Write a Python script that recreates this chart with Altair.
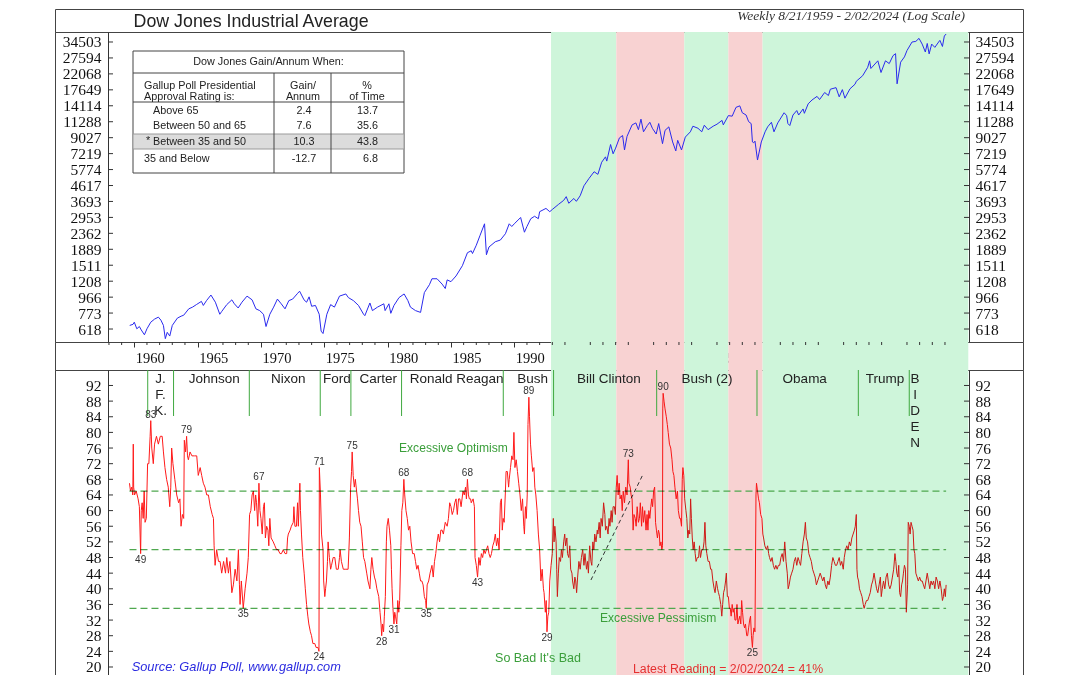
import altair as alt
import pandas as pd

SANS = "Liberation Sans"
SERIF = "Liberation Serif"

# ---------------- data ----------------
djia_year = [1959.64, 1959.9, 1960.0, 1960.2, 1960.4, 1960.55, 1960.8, 1961.0, 1961.3, 1961.6, 1961.9,
             1962.1, 1962.3, 1962.45, 1962.6, 1962.8, 1963.0, 1963.4, 1963.7, 1963.9, 1964.3, 1964.6,
             1964.9, 1965.3, 1965.45, 1965.7, 1966.05, 1966.4, 1966.75, 1966.9, 1967.3, 1967.7, 1967.9,
             1968.2, 1968.5, 1968.9, 1969.3, 1969.6, 1969.9, 1970.2, 1970.4, 1970.7, 1971.0, 1971.3,
             1971.6, 1971.9, 1972.2, 1972.5, 1972.9, 1973.05, 1973.4, 1973.6, 1973.8, 1974.0, 1974.3,
             1974.6, 1974.75, 1974.9, 1975.2, 1975.5, 1975.8, 1976.2, 1976.7, 1976.9, 1977.3, 1977.7,
             1978.1, 1978.2, 1978.6, 1978.8, 1979.2, 1979.7, 1979.8, 1980.1, 1980.25, 1980.5, 1980.9,
             1981.3, 1981.6, 1981.8, 1982.2, 1982.6, 1982.9, 1983.3, 1983.5, 1983.9, 1984.3, 1984.55,
             1984.7, 1985.0, 1985.4, 1985.9, 1986.3, 1986.6, 1986.7, 1987.0, 1987.3, 1987.65, 1987.8,
             1988.0, 1988.5, 1988.9, 1989.3, 1989.6, 1989.8, 1990.0, 1990.5, 1990.8, 1991.0, 1991.3,
             1991.6, 1991.9, 1992.0, 1992.5, 1992.8, 1993.0, 1993.5, 1993.9, 1994.1, 1994.3, 1994.7,
             1994.9, 1995.2, 1995.5, 1995.9, 1996.3, 1996.6, 1996.9, 1997.2, 1997.3, 1997.6, 1997.8,
             1998.0, 1998.3, 1998.55, 1998.7, 1998.9, 1999.3, 1999.6, 1999.8, 2000.0, 2000.2, 2000.5,
             2000.7, 2000.9, 2001.2, 2001.4, 2001.7, 2001.9, 2002.2, 2002.5, 2002.75, 2002.9, 2003.2,
             2003.5, 2003.9, 2004.1, 2004.5, 2004.8, 2005.0, 2005.3, 2005.7, 2006.0, 2006.4, 2006.5,
             2006.9, 2007.2, 2007.5, 2007.8, 2008.0, 2008.3, 2008.5, 2008.7, 2008.8, 2008.9, 2009.0,
             2009.2, 2009.5, 2009.8, 2010.0, 2010.3, 2010.5, 2010.8, 2011.3, 2011.5, 2011.6, 2011.75,
             2012.0, 2012.3, 2012.45, 2012.8, 2012.9, 2013.2, 2013.5, 2013.9, 2014.1, 2014.5, 2014.8,
             2014.95, 2015.4, 2015.65, 2015.9, 2016.1, 2016.5, 2016.9, 2017.0, 2017.5, 2017.9, 2018.05,
             2018.15, 2018.7, 2018.95, 2019.3, 2019.6, 2019.9, 2020.1, 2020.22, 2020.5, 2020.8, 2021.0,
             2021.4, 2021.7, 2021.95, 2022.2, 2022.45, 2022.6, 2022.75, 2022.95, 2023.2, 2023.5, 2023.6,
             2023.8, 2023.95, 2024.09]
djia_value = [650, 660, 680, 620, 640, 610, 570, 620, 680, 710, 730,
              700, 650, 540, 590, 560, 650, 720, 740, 750, 820, 840,
              870, 910, 860, 920, 995, 900, 760, 790, 870, 930, 880,
              830, 900, 980, 930, 820, 800, 760, 640, 760, 840, 940,
              880, 820, 920, 940, 1020, 1050, 930, 900, 970, 850, 860,
              760, 600, 580, 760, 870, 840, 980, 1010, 960, 920, 860,
              760, 745, 890, 800, 840, 880, 800, 880, 770, 860, 960,
              1010, 920, 840, 800, 780, 1030, 1150, 1250, 1250, 1160, 1090,
              1230, 1200, 1300, 1500, 1800, 1850, 1780, 2000, 2300, 2700, 1750,
              1950, 2100, 2150, 2350, 2700, 2600, 2700, 2950, 2400, 2600, 2900,
              3000, 2900, 3200, 3350, 3200, 3300, 3550, 3750, 3950, 3600, 3850,
              3700, 4000, 4600, 5100, 5600, 5400, 6400, 6900, 6500, 8200, 7200,
              7800, 9000, 9300, 7600, 9200, 10800, 11100, 10100, 11700, 9800, 10700,
              11200, 10300, 9500, 11000, 8300, 10000, 10500, 8500, 7500, 8700, 7600,
              9100, 9800, 10600, 10300, 9800, 10750, 10100, 10600, 10900, 11500, 10800,
              12300, 12200, 13800, 14100, 12800, 12400, 11300, 11000, 8500, 8400, 8600,
              6600, 8500, 9800, 10500, 11200, 9800, 11100, 12800, 12300, 11000, 10700,
              12400, 13200, 12400, 13500, 12700, 14500, 15300, 16100, 15400, 17000, 16300,
              17800, 18200, 16000, 17700, 15700, 17900, 19100, 19900, 21500, 24200, 26500,
              23800, 26500, 22500, 26500, 25500, 28500, 29300, 19200, 26000, 28000, 30600,
              34500, 34800, 36300, 33500, 30000, 33800, 29200, 33500, 32000, 34500, 35300,
              32400, 37500, 38600]

appr_year = [1959.62, 1959.7, 1959.8, 1959.88, 1959.92, 1959.95, 1960.02, 1960.15, 1960.3, 1960.4, 1960.5,
             1960.55, 1960.62, 1960.7, 1960.78, 1960.85, 1960.95, 1961.05, 1961.15, 1961.25, 1961.3, 1961.38,
             1961.5, 1961.6, 1961.75, 1961.9, 1962.05, 1962.2, 1962.3, 1962.42, 1962.55, 1962.68, 1962.8,
             1962.88, 1962.95, 1963.05, 1963.2, 1963.35, 1963.5, 1963.6, 1963.69, 1963.8, 1963.9, 1963.95,
             1964.05, 1964.13, 1964.2, 1964.27, 1964.4, 1964.55, 1964.75, 1964.93, 1965.05, 1965.2, 1965.32,
             1965.45, 1965.58, 1965.72, 1965.85, 1966.0, 1966.15, 1966.25, 1966.3, 1966.38, 1966.5, 1966.65,
             1966.77, 1966.9, 1967.05, 1967.2, 1967.3, 1967.43, 1967.55, 1967.7, 1967.82, 1967.96, 1968.1,
             1968.22, 1968.3, 1968.35, 1968.45, 1968.6, 1968.75, 1968.9, 1969.0, 1969.1, 1969.2, 1969.3,
             1969.4, 1969.5, 1969.58, 1969.65, 1969.75, 1969.84, 1969.92, 1970.0, 1970.1, 1970.2, 1970.27,
             1970.35, 1970.45, 1970.55, 1970.62, 1970.7, 1970.8, 1970.97, 1971.1, 1971.23, 1971.35, 1971.5,
             1971.62, 1971.76, 1971.9, 1972.03, 1972.1, 1972.16, 1972.3, 1972.4, 1972.55, 1972.6, 1972.68,
             1972.8, 1972.89, 1972.95, 1973.07, 1973.12, 1973.2, 1973.3, 1973.41, 1973.5, 1973.6, 1973.7,
             1973.78, 1973.9, 1973.99, 1974.1, 1974.25, 1974.35, 1974.5, 1974.58, 1974.61, 1974.7, 1974.78,
             1974.9, 1974.95, 1975.04, 1975.1, 1975.17, 1975.25, 1975.3, 1975.4, 1975.5, 1975.57, 1975.7,
             1975.83, 1975.95, 1976.1, 1976.2, 1976.25, 1976.35, 1976.5, 1976.7, 1976.88, 1976.98, 1977.08,
             1977.15, 1977.2, 1977.28, 1977.37, 1977.45, 1977.55, 1977.62, 1977.7, 1977.8, 1977.9, 1978.0,
             1978.1, 1978.2, 1978.35, 1978.45, 1978.6, 1978.68, 1978.75, 1978.85, 1978.96, 1979.05, 1979.15,
             1979.3, 1979.4, 1979.48, 1979.53, 1979.6, 1979.68, 1979.74, 1979.82, 1979.9, 1979.95, 1980.05,
             1980.15, 1980.25, 1980.3, 1980.35, 1980.42, 1980.5, 1980.56, 1980.62, 1980.72, 1980.8, 1980.88,
             1980.95, 1981.05, 1981.12, 1981.2, 1981.28, 1981.35, 1981.45, 1981.55, 1981.65, 1981.75, 1981.85,
             1981.97, 1982.1, 1982.2, 1982.3, 1982.4, 1982.5, 1982.6, 1982.7, 1982.8, 1982.9, 1983.0,
             1983.05, 1983.12, 1983.24, 1983.35, 1983.5, 1983.6, 1983.7, 1983.8, 1983.9, 1984.0, 1984.1,
             1984.2, 1984.3, 1984.4, 1984.55, 1984.7, 1984.8, 1984.9, 1985.0, 1985.1, 1985.2, 1985.3,
             1985.4, 1985.5, 1985.6, 1985.7, 1985.8, 1985.95, 1986.05, 1986.15, 1986.22, 1986.3, 1986.38,
             1986.45, 1986.55, 1986.6, 1986.75, 1986.85, 1986.9, 1987.0, 1987.1, 1987.2, 1987.3, 1987.4,
             1987.5, 1987.6, 1987.7, 1987.8, 1987.9, 1988.0, 1988.1, 1988.2, 1988.3, 1988.4, 1988.5,
             1988.6, 1988.7, 1988.8, 1988.9, 1988.98, 1989.05, 1989.12, 1989.2, 1989.3, 1989.35, 1989.45,
             1989.55, 1989.6, 1989.7, 1989.8, 1989.9, 1989.97, 1990.05, 1990.15, 1990.25, 1990.35, 1990.45,
             1990.55, 1990.65, 1990.75, 1990.8, 1990.88, 1990.95, 1991.02, 1991.08, 1991.15, 1991.2, 1991.28,
             1991.35, 1991.45, 1991.55, 1991.62, 1991.7, 1991.8, 1991.9, 1992.0, 1992.1, 1992.2, 1992.3,
             1992.35, 1992.45, 1992.52, 1992.58, 1992.65, 1992.72, 1992.8, 1992.9, 1993.0, 1993.08, 1993.14,
             1993.2, 1993.3, 1993.35, 1993.4, 1993.48, 1993.55, 1993.65, 1993.72, 1993.8, 1993.9, 1993.98,
             1994.05, 1994.15, 1994.2, 1994.3, 1994.38, 1994.45, 1994.55, 1994.6, 1994.7, 1994.78, 1994.85,
             1994.92, 1995.0, 1995.1, 1995.2, 1995.3, 1995.4, 1995.5, 1995.58, 1995.7, 1995.78, 1995.85,
             1995.95, 1996.05, 1996.12, 1996.2, 1996.28, 1996.35, 1996.45, 1996.55, 1996.6, 1996.7, 1996.78,
             1996.85, 1996.95, 1997.05, 1997.15, 1997.2, 1997.3, 1997.4, 1997.48, 1997.55, 1997.65, 1997.72,
             1997.8, 1997.9, 1997.98, 1998.05, 1998.12, 1998.2, 1998.28, 1998.35, 1998.45, 1998.52, 1998.6,
             1998.7, 1998.8, 1998.9, 1999.0, 1999.05, 1999.15, 1999.22, 1999.3, 1999.38, 1999.45, 1999.55,
             1999.62, 1999.7, 1999.8, 1999.88, 1999.95, 2000.05, 2000.12, 2000.2, 2000.3, 2000.4, 2000.48,
             2000.55, 2000.62, 2000.7, 2000.78, 2000.85, 2000.92, 2001.0, 2001.08, 2001.15, 2001.22, 2001.3,
             2001.38, 2001.45, 2001.5, 2001.58, 2001.65, 2001.7, 2001.72, 2001.75, 2001.82, 2001.9, 2002.0,
             2002.08, 2002.15, 2002.25, 2002.35, 2002.45, 2002.52, 2002.6, 2002.68, 2002.78, 2002.88, 2002.95,
             2003.05, 2003.12, 2003.2, 2003.26, 2003.31, 2003.38, 2003.45, 2003.55, 2003.62, 2003.7, 2003.78,
             2003.85, 2003.92, 2003.98, 2004.05, 2004.12, 2004.2, 2004.28, 2004.35, 2004.45, 2004.55, 2004.62,
             2004.7, 2004.8, 2004.9, 2004.98, 2005.05, 2005.12, 2005.2, 2005.3, 2005.4, 2005.5, 2005.58,
             2005.68, 2005.78, 2005.85, 2005.95, 2006.05, 2006.12, 2006.2, 2006.3, 2006.38, 2006.45, 2006.52,
             2006.6, 2006.68, 2006.74, 2006.82, 2006.9, 2006.98, 2007.05, 2007.12, 2007.2, 2007.28, 2007.35,
             2007.42, 2007.5, 2007.58, 2007.65, 2007.72, 2007.8, 2007.88, 2007.95, 2008.02, 2008.1, 2008.18,
             2008.25, 2008.35, 2008.42, 2008.5, 2008.58, 2008.65, 2008.72, 2008.8, 2008.85, 2008.92, 2009.0,
             2009.08, 2009.12, 2009.2, 2009.28, 2009.35, 2009.45, 2009.55, 2009.62, 2009.68, 2009.78, 2009.9,
             2010.0, 2010.08, 2010.15, 2010.25, 2010.35, 2010.45, 2010.55, 2010.65, 2010.75, 2010.85, 2010.95,
             2011.05, 2011.15, 2011.25, 2011.35, 2011.45, 2011.55, 2011.62, 2011.7, 2011.8, 2011.9, 2012.0,
             2012.1, 2012.2, 2012.3, 2012.4, 2012.5, 2012.6, 2012.7, 2012.8, 2012.9, 2012.98, 2013.05,
             2013.15, 2013.25, 2013.35, 2013.45, 2013.55, 2013.65, 2013.75, 2013.85, 2013.95, 2014.05, 2014.15,
             2014.25, 2014.35, 2014.45, 2014.55, 2014.65, 2014.75, 2014.85, 2014.95, 2015.05, 2015.15, 2015.25,
             2015.35, 2015.45, 2015.55, 2015.65, 2015.75, 2015.85, 2015.97, 2016.05, 2016.15, 2016.25, 2016.35,
             2016.45, 2016.55, 2016.65, 2016.75, 2016.85, 2016.92, 2017.0, 2017.05, 2017.1, 2017.18, 2017.25,
             2017.35, 2017.45, 2017.55, 2017.62, 2017.7, 2017.8, 2017.9, 2018.0, 2018.1, 2018.2, 2018.3,
             2018.4, 2018.5, 2018.6, 2018.7, 2018.8, 2018.9, 2018.97, 2019.05, 2019.15, 2019.25, 2019.35,
             2019.45, 2019.55, 2019.65, 2019.75, 2019.85, 2019.95, 2020.05, 2020.12, 2020.2, 2020.28, 2020.35,
             2020.42, 2020.5, 2020.58, 2020.65, 2020.72, 2020.8, 2020.88, 2020.95, 2021.05, 2021.1, 2021.18,
             2021.25, 2021.32, 2021.4, 2021.48, 2021.55, 2021.62, 2021.7, 2021.8, 2021.9, 2022.0, 2022.1,
             2022.2, 2022.3, 2022.4, 2022.5, 2022.6, 2022.7, 2022.8, 2022.9, 2023.0, 2023.1, 2023.2,
             2023.3, 2023.4, 2023.5, 2023.6, 2023.7, 2023.8, 2023.88, 2023.95, 2024.03, 2024.09]
appr_value = [67, 65, 66, 64, 77, 66, 64, 65, 63, 61, 49,
              60, 62, 58, 65, 57, 58, 72, 72, 79, 83, 76,
              72, 77, 79, 77, 79, 79, 75, 71, 68, 66, 61,
              66, 76, 72, 68, 64, 62, 63, 56, 59, 58, 78,
              75, 79, 74, 73, 75, 74, 74, 74, 69, 71, 69,
              67, 66, 64, 64, 61, 59, 58, 51, 46, 50, 47,
              47, 44, 47, 44, 48, 44, 47, 39, 41, 45, 42,
              50, 41, 36, 42, 35, 40, 44, 48, 59, 60, 64,
              65, 60, 64, 62, 56, 67, 60, 58, 54, 61, 62,
              53, 56, 55, 51, 58, 53, 52, 51, 50, 50, 49,
              49, 50, 49, 49, 53, 54, 55, 56, 57, 61, 56,
              56, 62, 56, 67, 60, 54, 48, 44, 40, 36, 33,
              31, 29, 28, 26, 26, 25, 25, 24, 71, 64, 54,
              50, 42, 38, 40, 42, 47, 52, 48, 45, 46, 48,
              48, 45, 45, 48, 50, 47, 45, 45, 45, 53, 66,
              70, 75, 69, 66, 68, 65, 63, 60, 57, 56, 52,
              48, 47, 44, 42, 40, 45, 48, 45, 43, 42, 40,
              38, 34, 31, 28, 31, 29, 33, 38, 52, 56, 58,
              55, 51, 45, 40, 35, 31, 34, 33, 31, 37, 34,
              37, 51, 60, 62, 68, 64, 60, 58, 55, 56, 52,
              49, 49, 47, 45, 46, 44, 42, 42, 41, 38, 37,
              35, 41, 42, 44, 46, 43, 47, 49, 52, 54, 52,
              55, 55, 54, 57, 56, 58, 62, 61, 59, 60, 62,
              63, 59, 63, 63, 61, 65, 64, 66, 63, 68, 64,
              63, 63, 62, 63, 61, 48, 46, 43, 48, 46, 49,
              48, 50, 49, 50, 51, 49, 48, 49, 51, 52, 54,
              51, 53, 50, 62, 63, 55, 58, 57, 65, 70, 70,
              66, 68, 71, 74, 73, 80, 71, 73, 70, 67, 64,
              60, 63, 56, 54, 61, 58, 64, 82, 89, 84, 77,
              74, 70, 71, 66, 64, 60, 54, 50, 42, 45, 40,
              39, 34, 37, 29, 33, 34, 42, 46, 49, 58, 52,
              56, 52, 45, 38, 44, 48, 47, 50, 48, 52, 54,
              51, 53, 49, 48, 51, 45, 44, 42, 40, 43, 42,
              39, 43, 47, 45, 48, 50, 46, 49, 45, 47, 44,
              51, 47, 46, 52, 50, 54, 52, 55, 54, 57, 53,
              58, 56, 62, 59, 55, 56, 54, 58, 56, 60, 57,
              61, 61, 59, 66, 69, 64, 67, 63, 64, 60, 65,
              62, 66, 64, 73, 67, 66, 64, 63, 55, 59, 58,
              56, 61, 57, 58, 62, 56, 61, 57, 60, 55, 59,
              55, 60, 58, 61, 63, 61, 65, 66, 57, 55, 53,
              55, 54, 51, 52, 50, 51, 86, 90, 88, 86, 84,
              82, 80, 77, 76, 73, 70, 69, 66, 63, 65, 60,
              58, 58, 56, 68, 71, 69, 63, 60, 58, 53, 55,
              54, 63, 58, 53, 50, 52, 49, 47, 48, 48, 51,
              48, 50, 50, 52, 57, 51, 49, 47, 47, 45, 45,
              42, 40, 39, 42, 40, 39, 38, 36, 33, 36, 39,
              40, 42, 44, 38, 38, 35, 35, 33, 36, 34, 35,
              32, 32, 36, 31, 32, 33, 31, 37, 34, 31, 30,
              31, 28, 28, 30, 32, 33, 28, 25, 28, 30, 29,
              64, 67, 65, 63, 62, 59, 58, 54, 53, 51, 50,
              51, 49, 48, 47, 48, 46, 45, 46, 45, 46, 46,
              48, 49, 47, 52, 47, 44, 40, 41, 43, 44, 45,
              47, 48, 46, 48, 47, 46, 49, 52, 54, 57, 53,
              52, 49, 48, 47, 45, 44, 43, 41, 42, 43, 44,
              43, 42, 43, 41, 40, 42, 41, 43, 46, 48, 47,
              46, 46, 47, 48, 46, 47, 45, 48, 50, 51, 50,
              52, 51, 53, 54, 55, 56, 59, 45, 43, 42, 40,
              39, 38, 36, 35, 36, 37, 37, 38, 39, 41, 42,
              44, 42, 40, 39, 41, 43, 38, 40, 42, 40, 43,
              44, 41, 40, 41, 43, 45, 49, 47, 44, 43, 46,
              39, 38, 41, 42, 44, 46, 45, 34, 41, 57, 56,
              54, 57, 56, 55, 50, 49, 44, 43, 42, 43, 42,
              42, 41, 40, 42, 44, 42, 40, 42, 41, 42, 40,
              43, 42, 40, 42, 40, 37, 38, 40, 38, 41]

top_ticks = [618, 773, 966, 1208, 1511, 1889, 2362, 2953, 3693, 4617, 5774, 7219,
             9027, 11288, 14114, 17649, 22068, 27594, 34503]
bottom_ticks = [20, 24, 28, 32, 36, 40, 44, 48, 52, 56, 60, 64, 68, 72, 76, 80, 84, 88, 92]
year_labels = [1960, 1965, 1970, 1975, 1980, 1985, 1990, 1995, 2000, 2005, 2010, 2015, 2020]
minor_years = [y for y in range(1958, 2026) if y % 5 != 0]

shade_start = [1992.9, 1998.05, 2003.42, 2006.9, 2009.6]
shade_end = [1998.05, 2003.42, 2006.9, 2009.6, 2025.84]
shade_kind = ["green", "red", "green", "red", "green"]

pres_start = [1961.06, 1963.1, 1969.08, 1974.68, 1977.1, 1981.1, 1989.13, 1993.1,
              2001.24, 2009.16, 2017.16, 2021.18]
pres_names = ["J.\nF.\nK.", "Johnson", "Nixon", "Ford", "Carter", "Ronald Reagan", "Bush",
              "Bill Clinton", "Bush (2)", "Obama", "Trump", "B\nI\nD\nE\nN"]
pres_label_year = [1962.07, 1966.32, 1972.16, 1976.0, 1979.26, 1985.45, 1991.45,
                   1997.46, 2005.21, 2012.93, 2019.27, 2021.64]

peak_year = [1961.3, 1964.13, 1969.84, 1974.61, 1977.2, 1981.28, 1986.3, 1991.15, 1999.0, 2001.75]
peak_value = [83, 79, 67, 71, 75, 68, 68, 89, 73, 90]
trough_year = [1960.5, 1968.6, 1974.58, 1979.53, 1980.5, 1983.05, 1987.1, 1992.58, 2008.8]
trough_value = [49, 35, 24, 28, 31, 35, 43, 29, 25]

zones = [65, 50, 35]
trend_year = [1996.05, 2000.18]
trend_value = [42.25, 69.4]

TITLE = "Dow Jones Industrial Average"
SUBTITLE = "Weekly 8/21/1959 - 2/02/2024 (Log Scale)"
table_title = "Dow Jones Gain/Annum When:"
table_col_head = ["Gallup Poll Presidential", "Approval Rating is:"]
table_gain_head = ["Gain/", "Annum"]
table_pct_head = ["%", "of Time"]
table_rows = ["Above 65", "Between 50 and 65", "Between 35 and 50", "35 and Below"]
table_gain = ["2.4", "7.6", "10.3", "-12.7"]
table_pct = ["13.7", "35.6", "43.8", "6.8"]
table_highlight = 2

ann_optimism = "Excessive Optimism"
ann_pessimism = "Excessive Pessimism"
ann_sobad = "So Bad It's Bad"
ann_source = "Source: Gallup Poll, www.gallup.com"
ann_latest = "Latest Reading = 2/02/2024 = 41%"

# ---------------- styling / layout ----------------
GREEN_BG = "#CEF5DA"
RED_BG = "#F8D2D2"
BLUE = "#2A2AEE"
RED_LINE = "#FF1A1A"
ZONE_GREEN = "#4FA84F"
TEXT_GREEN = "#3A9E3A"
SEP_GREEN = "#3FA83F"
FRAME = "#444444"

W = 968
H_HEAD = 23
H_TOP = 310
H_BAND = 28
H_BOT = 307
OX = 54  # absolute x of frame left
LAX = 53  # local x of left axis line
RAX = 914  # local x of right axis line

xs = alt.Scale(domain=[1953.74, 2030.16], nice=False, zero=False)
ys_top = alt.Scale(type="log", domain=[515.2, 39690], nice=False)
ys_bot = alt.Scale(domain=[17.44, 95.96], nice=False, zero=False)


def left_axis(vals, fmt="d"):
    return alt.Axis(orient="left", offset=-LAX, values=vals, format=fmt, ticks=False,
                    domain=True, domainColor="#333", domainWidth=1, labelFont=SERIF,
                    labelFontSize=15.5, labelColor="#111", labelPadding=7, grid=False,
                    title=None, labelOverlap=False)


def right_axis(vals, fmt="d"):
    return alt.Axis(orient="right", offset=-(W - RAX), values=vals, format=fmt, ticks=False,
                    domain=True, domainColor="#333", domainWidth=1, labelFont=SERIF,
                    labelFontSize=15.5, labelColor="#111", labelPadding=6, grid=False,
                    title=None, labelOverlap=False)


shade_df = pd.DataFrame({"s": shade_start, "e": shade_end, "k": shade_kind})
shade_color = alt.Scale(domain=["green", "red"], range=[GREEN_BG, RED_BG])


def shading(h, axis=None):
    return alt.Chart(shade_df).mark_rect().encode(
        x=alt.X("s:Q", scale=xs, axis=axis), x2="e:Q",
        y=alt.value(0), y2=alt.value(h),
        color=alt.Color("k:N", scale=shade_color, legend=None))


def tick_layers(vals, yscale):
    tdf = pd.DataFrame({"v": vals})
    lt = alt.Chart(tdf).mark_rule(color="#333").encode(
        y=alt.Y("v:Q", scale=yscale, axis=None), x=alt.value(LAX), x2=alt.value(LAX + 5))
    rt = alt.Chart(tdf).mark_rule(color="#333").encode(
        y=alt.Y("v:Q", scale=yscale, axis=right_axis(vals)), x=alt.value(RAX - 5), x2=alt.value(RAX))
    return lt, rt


# ---------------- header ----------------
header = alt.layer(
    alt.Chart(pd.DataFrame({"t": [TITLE]})).mark_text(
        font=SANS, fontSize=17.8, align="left", baseline="middle", color="#222").encode(
        text="t:N", x=alt.value(132.6 - OX), y=alt.value(13)),
    alt.Chart(pd.DataFrame({"t": [SUBTITLE]})).mark_text(
        font=SERIF, fontStyle="italic", fontSize=13.5, align="right", baseline="middle",
        color="#333").encode(text="t:N", x=alt.value(964 - OX), y=alt.value(6.5)),
).properties(width=W, height=H_HEAD)

# ---------------- table (in top panel, local pixel coordinates) ----------------
TY = 31  # absolute y of top panel
bx1, bx2, by1, by2 = 132 - OX, 403 - OX, 50 - TY, 172 - TY
c1, c2 = 273 - OX, 330 - OX
row_y = [109.5 - TY, 125 - TY, 140.5 - TY, 157.5 - TY]
hl_y1, hl_y2 = 133 - TY, 148 - TY

box_df = pd.DataFrame({"x1": [bx1], "x2": [bx2], "y1": [by1], "y2": [by2]})
hl_df = pd.DataFrame({"x1": [bx1], "x2": [bx2], "y1": [hl_y1], "y2": [hl_y2]})
lines_df = pd.DataFrame({
    "x1": [bx1, bx1, c1, c2],
    "x2": [bx2, bx2, c1, c2],
    "y1": [72 - TY, 101 - TY, 72 - TY, 72 - TY],
    "y2": [72 - TY, 101 - TY, by2, by2]})

left_txt = pd.DataFrame({
    "t": table_col_head + table_rows + ["*"],
    "x": [143 - OX, 143 - OX, 152 - OX, 152 - OX, 152 - OX, 143 - OX, 145 - OX],
    "y": [85 - TY, 96 - TY] + row_y + [row_y[table_highlight] - 1]})
center_txt = pd.DataFrame({
    "t": [table_title] + table_gain_head + table_pct_head + table_gain,
    "x": [267.5 - OX, 302 - OX, 302 - OX, 366 - OX, 366 - OX] + [303 - OX] * 4,
    "y": [61 - TY, 85 - TY, 96 - TY, 85 - TY, 96 - TY] + row_y})
right_txt = pd.DataFrame({"t": table_pct, "x": [377 - OX] * 4, "y": row_y})


def pix_rect(df, **kw):
    return alt.Chart(df).mark_rect(**kw).encode(
        x=alt.X("x1:Q", scale=None, axis=None), x2="x2:Q",
        y=alt.Y("y1:Q", scale=None, axis=None), y2="y2:Q")


def pix_text(df, align):
    return alt.Chart(df).mark_text(font=SANS, fontSize=10.8, align=align, baseline="middle",
                                   color="#222").encode(
        x=alt.X("x:Q", scale=None, axis=None), y=alt.Y("y:Q", scale=None, axis=None), text="t:N")


table_layers = [
    pix_rect(box_df, fill="white", stroke=FRAME, strokeWidth=1),
    pix_rect(hl_df, fill="#DCDCDC", stroke="#9A9A9A", strokeWidth=1),
    alt.Chart(lines_df).mark_rule(color=FRAME, strokeWidth=1).encode(
        x=alt.X("x1:Q", scale=None, axis=None), x2="x2:Q",
        y=alt.Y("y1:Q", scale=None, axis=None), y2="y2:Q"),
    pix_text(left_txt, "left"),
    pix_text(center_txt, "center"),
    pix_text(right_txt, "right"),
]

# ---------------- top panel ----------------
djia_df = pd.DataFrame({"year": djia_year, "value": djia_value})
lt_top, rt_top = tick_layers(top_ticks, ys_top)
top = alt.layer(
    shading(H_TOP),
    alt.Chart(djia_df).mark_line(color=BLUE, strokeWidth=1).encode(
        x=alt.X("year:Q", scale=xs, axis=None),
        y=alt.Y("value:Q", scale=ys_top, axis=left_axis(top_ticks))),
    lt_top, rt_top,
    *table_layers,
).resolve_axis(y="independent").properties(width=W, height=H_TOP)

# ---------------- year band ----------------
AX_BAND = alt.Axis(orient="bottom", offset=-H_BAND, values=year_labels, format="d", tickSize=5,
                   tickColor="#333", ticks=True, domain=False, labelAlign="left", labelOffset=1,
                   labelPadding=4, labelFont=SERIF, labelFontSize=14.5, labelColor="#111",
                   grid=False, title=None, labelFlush=False, labelOverlap=False)
band = alt.layer(
    shading(H_BAND, AX_BAND),
    alt.Chart(pd.DataFrame({"y": minor_years})).mark_rule(color="#333").encode(
        x=alt.X("y:Q", scale=xs, axis=AX_BAND), y=alt.value(0), y2=alt.value(3)),
).properties(width=W, height=H_BAND)

# ---------------- bottom panel ----------------
appr_df = pd.DataFrame({"year": appr_year, "value": appr_value})
zone_df = pd.DataFrame({"z": zones, "x1": [min(appr_year)] * 3, "x2": [max(appr_year)] * 3})
trend_df = pd.DataFrame({"year": trend_year, "value": trend_value})
sep_df = pd.DataFrame({"year": pres_start})
names_df = pd.DataFrame({"year": pres_label_year, "name": pres_names})
peak_df = pd.DataFrame({"year": peak_year, "value": peak_value, "lab": [str(v) for v in peak_value]})
trough_df = pd.DataFrame({"year": trough_year, "value": trough_value,
                          "lab": [str(v) for v in trough_value]})
lt_bot, rt_bot = tick_layers(bottom_ticks, ys_bot)
BY = 369


def ann(text, xabs, yabs, color, align="left", size=12.3, style="normal"):
    return alt.Chart(pd.DataFrame({"t": [text]})).mark_text(
        font=SANS, fontSize=size, align=align, baseline="middle", color=color,
        fontStyle=style).encode(text="t:N", x=alt.value(xabs - OX), y=alt.value(yabs - BY))


bottom = alt.layer(
    shading(H_BOT),
    alt.Chart(zone_df).mark_rule(color=ZONE_GREEN, strokeWidth=1.2, strokeDash=[7, 4]).encode(
        x=alt.X("x1:Q", scale=xs, axis=None), x2="x2:Q",
        y=alt.Y("z:Q", scale=ys_bot, axis=None)),
    alt.Chart(trend_df).mark_line(color="#333", strokeWidth=1, strokeDash=[4, 3]).encode(
        x=alt.X("year:Q", scale=xs, axis=None), y=alt.Y("value:Q", scale=ys_bot, axis=None)),
    alt.Chart(appr_df).mark_line(color=RED_LINE, strokeWidth=1, blend="multiply").encode(
        x=alt.X("year:Q", scale=xs, axis=None),
        y=alt.Y("value:Q", scale=ys_bot, axis=left_axis(bottom_ticks))),
    alt.Chart(sep_df).mark_rule(color=SEP_GREEN, strokeWidth=1).encode(
        x=alt.X("year:Q", scale=xs, axis=None), y=alt.value(0), y2=alt.value(46)),
    alt.Chart(names_df).mark_text(font=SANS, fontSize=13.5, align="center", baseline="top",
                                  lineBreak="\n", lineHeight=16, color="#222").encode(
        x=alt.X("year:Q", scale=xs, axis=None), y=alt.value(1.5), text="name:N"),
    alt.Chart(peak_df).mark_text(font=SANS, fontSize=10, align="center", baseline="bottom",
                                 dy=-1, color="#333").encode(
        x=alt.X("year:Q", scale=xs, axis=None), y=alt.Y("value:Q", scale=ys_bot, axis=None),
        text="lab:N"),
    alt.Chart(trough_df).mark_text(font=SANS, fontSize=10, align="center", baseline="top",
                                   dy=1, color="#333").encode(
        x=alt.X("year:Q", scale=xs, axis=None), y=alt.Y("value:Q", scale=ys_bot, axis=None),
        text="lab:N"),
    ann(ann_optimism, 398, 446.7, TEXT_GREEN, size=12.1),
    ann(ann_pessimism, 599, 616.7, TEXT_GREEN, size=12.1),
    ann(ann_sobad, 537, 657.3, TEXT_GREEN, align="center", size=12.5),
    ann(ann_source, 130.7, 665.7, "#2B2BE0", size=12.8, style="italic"),
    ann(ann_latest, 632, 668, "#E53030", size=12.3),
    lt_bot, rt_bot,
).resolve_axis(y="independent").properties(width=W, height=H_BOT)

chart = alt.vconcat(header, top, band, bottom, spacing=0, bounds="flush").properties(
    padding={"left": OX - 8, "top": 0, "right": 5, "bottom": 0}
).configure_view(stroke=FRAME, strokeWidth=1)

chart.save("out.html", embed_options={"renderer": "svg", "actions": False})
